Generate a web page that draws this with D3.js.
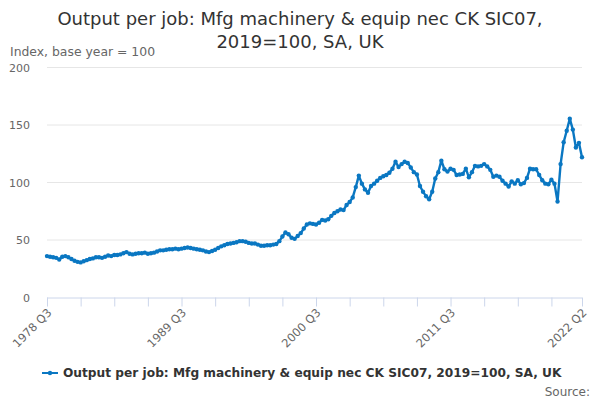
<!DOCTYPE html>
<html>
<head>
<meta charset="utf-8">
<script src="https://cdn.jsdelivr.net/npm/d3@7"></script>
<style>
  body { margin: 0; background: #fff; }
  svg { font-family: "DejaVu Sans", sans-serif; }
</style>
</head>
<body>
<svg id="chart" width="600" height="400"></svg>
<script>
// quarterly index, 1978 Q3 .. 2022 Q2
var startYear = 1978, startQ = 3;
var values = [
  36, 35.5, 35, 34.5, 33, 35.5, 36, 35, 33.5, 32,
  31, 30.5, 31.5, 32.5, 33.5, 34, 35, 35, 34.5, 35.5,
  36.5, 36, 37, 37, 37.5, 38.5, 39.5, 38, 37.5, 38,
  38.5, 38.5, 39, 38, 38.5, 39, 40, 41, 41, 41.5,
  42, 42, 42.5, 42, 42.5, 43, 43.5, 43, 42.5, 42,
  41.5, 41, 40, 39.5, 40.5, 41.5, 43, 44.5, 45.5, 46.5,
  47, 47.5, 48, 49, 49, 48.5, 47.5, 47, 47, 46,
  45, 45, 45.5, 45.5, 46, 46.5, 49, 53, 56.5, 55,
  52, 51, 53.5, 56, 60, 63.5, 64.5, 64, 63.5, 65,
  67.5, 67, 68, 71, 73.5, 75, 76.5, 76, 80.5, 83,
  87, 96, 106, 99, 94, 91, 97, 99, 101.5, 104,
  105.5, 106.5, 108.5, 112, 118, 113.5, 116, 118, 117, 113,
  109, 107, 97, 92, 88, 85.5, 92, 103.5, 109, 119,
  111.5, 109.5, 112, 111, 106.5, 107, 107.5, 112, 104.5, 109,
  114.5, 114, 114.5, 116, 114, 111, 105, 106, 105, 101.5,
  99, 96.5, 101, 99, 102, 98.5, 99.5, 104, 112, 111.5,
  111.5, 106.5, 102, 99, 98.5, 102.5, 99, 83.5, 116, 135,
  145, 155.5, 146, 130.5, 134.5, 122
];
var periods = values.map(function(d, i) {
  var q = startQ - 1 + i;
  return (startYear + Math.floor(q / 4)) + " Q" + (q % 4 + 1);
});
var yTicks = [0, 50, 100, 150, 200];
var xTickIdx = [0, 11, 22, 33, 44, 55, 66, 77, 88, 99, 110, 121, 132, 143, 154, 165, 175];
var xLabelIdx = [0, 44, 88, 132, 175];

var titleLines = ["Output per job: Mfg machinery & equip nec CK SIC07,", "2019=100, SA, UK"];
var seriesName = "Output per job: Mfg machinery & equip nec CK SIC07, 2019=100, SA, UK";
var yUnit = "Index, base year = 100";
var blue = "#0a77c2";

var svg = d3.select("#chart");

var xScale = d3.scaleLinear().domain([0, values.length - 1]).range([47, 582]);
var yScale = d3.scaleLinear().domain([0, 200]).range([297.5, 67.5]);

svg.append("text").attr("x", 300).attr("y", 25)
  .attr("text-anchor", "middle").attr("font-size", 18).attr("fill", "#333")
  .selectAll("tspan").data(titleLines).enter().append("tspan")
  .attr("x", 300).attr("dy", function(d, i) { return i ? 23 : 0; })
  .text(function(d) { return d; });

svg.append("text").attr("x", 10).attr("y", 56)
  .attr("font-size", 12.4).attr("fill", "#666").text(yUnit);

// grid + y labels
var grid = svg.append("g");
grid.selectAll("line").data(yTicks.filter(function(d){ return d > 0; })).enter().append("line")
  .attr("x1", 47).attr("x2", 582)
  .attr("y1", function(d) { return yScale(d); }).attr("y2", function(d) { return yScale(d); })
  .attr("stroke", "#e6e6e6");
grid.selectAll("text").data(yTicks).enter().append("text")
  .attr("x", 30).attr("y", function(d) { return yScale(d) + 4; })
  .attr("text-anchor", "end").attr("font-size", 11).attr("fill", "#666")
  .text(function(d) { return d; });

// x axis
var xAxis = svg.append("g").attr("transform", "translate(0," + yScale(0) + ")")
  .call(d3.axisBottom(xScale).tickValues(xTickIdx).tickSize(9)
    .tickFormat(function(d) { return xLabelIdx.indexOf(d) !== -1 ? periods[d] : ""; }));
xAxis.select(".domain").attr("stroke", "#ccd6eb").attr("d", "M47,0.5H582");
xAxis.selectAll(".tick line").attr("stroke", "#ccd6eb");
xAxis.selectAll(".tick text")
  .attr("font-family", "DejaVu Sans, sans-serif").attr("font-size", 11.5).attr("fill", "#666")
  .attr("text-anchor", "end")
  .attr("x", 0).attr("y", 0).attr("dy", "0.35em")
  .attr("transform", "translate(2,13) rotate(-45)");

// series
var line = d3.line()
  .x(function(d, i) { return xScale(i); })
  .y(function(d) { return yScale(d); });

svg.append("path").datum(values)
  .attr("fill", "none").attr("stroke", blue).attr("stroke-width", 2.4)
  .attr("stroke-linejoin", "round").attr("d", line);

svg.append("g").selectAll("circle").data(values).enter().append("circle")
  .attr("cx", function(d, i) { return xScale(i); })
  .attr("cy", function(d) { return yScale(d); })
  .attr("r", 2.2).attr("fill", blue);

// legend
var lg = svg.append("g").attr("transform", "translate(0,377)");
lg.append("line").attr("x1", 42).attr("x2", 58).attr("y1", -4).attr("y2", -4)
  .attr("stroke", blue).attr("stroke-width", 2);
lg.append("circle").attr("cx", 50).attr("cy", -4).attr("r", 2.2).attr("fill", blue);
lg.append("text").attr("x", 63).attr("y", 0)
  .attr("font-size", 12.2).attr("font-weight", "bold").attr("fill", "#333")
  .text(seriesName);

svg.append("text").attr("x", 590).attr("y", 396).attr("text-anchor", "end")
  .attr("font-size", 12).attr("fill", "#666").text("Source:");
</script>
</body>
</html>
